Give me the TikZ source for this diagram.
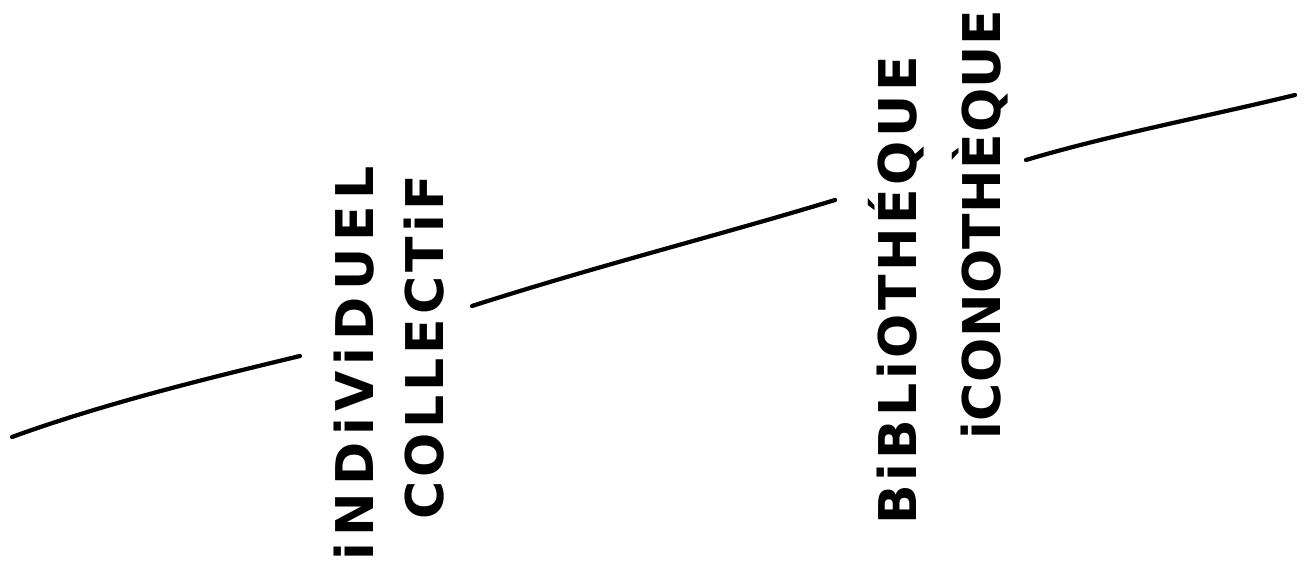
\documentclass[tikz,border=0pt]{standalone}
\usepackage{fontspec}
\newfontfamily\handfont{DejaVu Sans}[BoldFont={DejaVu Sans Bold}]
\tikzset{
  hand/.style={inner sep=0pt,rotate=90,anchor=base west,
    font=\handfont\bfseries\fontsize{29.6}{30}\selectfont\addfontfeature{LetterSpace=#1}},
  trait/.style={line width=2.4pt,line cap=round,line join=round}
}
\begin{document}
\begin{tikzpicture}[x=0.2mm,y=-0.2mm]
		\useasboundingbox (0,0) rectangle (1308,562);
		\clip (0,0) rectangle (1308,562);
		% les deux couples de mots
		\node[hand=13] (indiv) at (373,561) {iNDiViDUEL};
		\node[hand=8] (coll) at (443,520) {COLLECTiF};
		\node[hand=7] (biblio) at (916,525) {BiBLiOTHÉQUE};
		\node[hand=1] (icono) at (1000,440) {iCONOTHÈQUE};
		% la ligne coupée
		\coordinate (a1) at (12,437); \coordinate (a2) at (300,356);
		\coordinate (b1) at (472,306); \coordinate (b2) at (835,200);
		\coordinate (c1) at (1026,160); \coordinate (c2) at (1295,95);
		\draw[trait] (a1) .. controls (100,405) and (200,380) .. (a2);
		\draw[trait] (b1) .. controls (600,265) and (720,235) .. (b2);
		\draw[trait] (c1) .. controls (1110,135) and (1200,118) .. (c2);
\end{tikzpicture}
\end{document}
